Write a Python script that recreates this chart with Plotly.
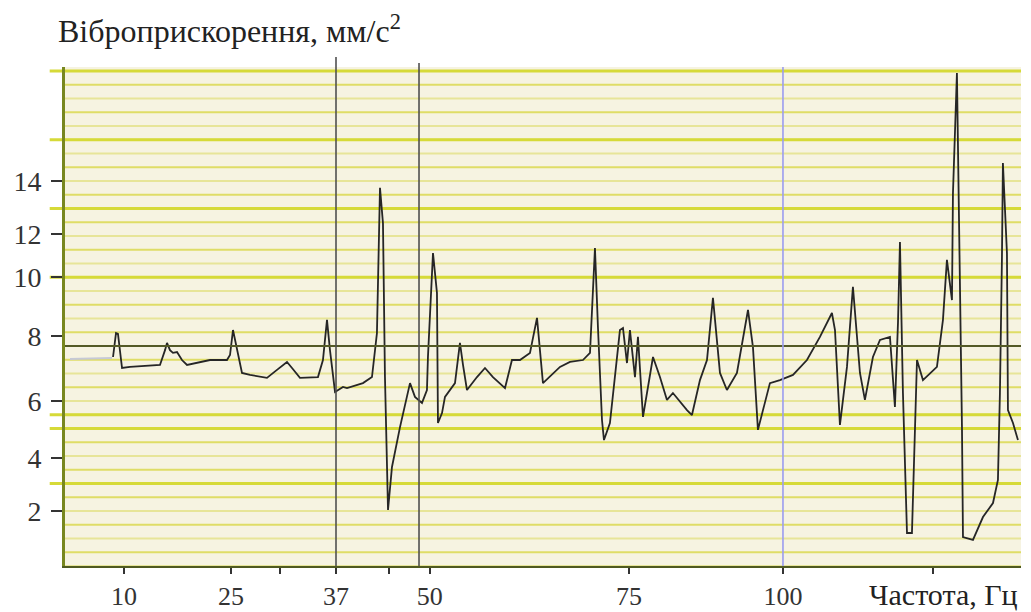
import plotly.graph_objects as go

# ---------------- data ----------------
freq = [5.57, 5.99, 6.27, 6.84, 7.96, 10.08, 12.19, 12.90, 13.18, 13.60, 14.02, 14.59, 15.29, 16.00,
        17.83, 19.24, 21.63, 22.06, 22.48, 22.90, 23.75, 24.88, 26.29, 27.27, 28.68, 30.09, 30.80,
        31.50, 31.92, 34.46, 35.16, 35.73, 36.15, 36.86, 37.98, 38.55, 40.80, 42.07, 42.77, 43.20,
        43.62, 43.90, 44.33, 44.89, 46.02, 47.43, 48.13, 49.12, 49.82, 49.96, 50.67, 51.23, 51.37,
        51.94, 52.36, 53.77, 54.47, 54.90, 55.46, 56.87, 58.00, 59.12, 60.82, 61.80, 62.93, 64.34,
        65.33, 66.17, 68.57, 69.98, 71.81, 72.80, 73.50, 73.92, 74.49, 74.77, 75.61, 77.02, 77.45,
        78.01, 78.43, 79.14, 79.56, 80.27, 81.68, 82.66, 83.65, 84.49, 85.48, 86.47, 87.17, 88.30,
        89.29, 90.13, 91.12, 92.10, 93.51, 95.07, 95.77, 96.47, 98.16, 99.57, 101.41, 103.38,
        105.21, 106.90, 107.33, 108.03, 109.02, 109.86, 110.85, 111.55, 112.68, 113.67, 115.08,
        115.50, 115.78, 116.21, 116.49, 116.91, 117.48, 118.18, 118.60, 118.89, 119.73, 121.70,
        122.55, 123.11, 123.82, 123.96, 124.52, 124.94, 125.23, 125.37, 126.78, 128.19, 129.60,
        130.30, 130.58, 130.86, 131.00, 131.57, 131.71, 132.42, 133.12]
accel = [7.60, 8.47, 8.44, 7.20, 7.24, 7.27, 7.31, 7.85, 8.11, 7.85, 7.75, 7.78, 7.49, 7.31,
         7.42, 7.49, 7.49, 7.67, 8.58, 8.04, 7.02, 6.95, 6.87, 6.84, 7.13, 7.42, 7.20,
         6.95, 6.84, 6.87, 7.49, 8.95, 7.85, 6.33, 6.51, 6.47, 6.65, 6.87, 8.47, 13.75,
         12.47, 6.87, 2.04, 3.60, 5.05, 6.65, 6.15, 5.93, 6.40, 7.60, 11.38, 9.93, 5.20,
         5.56, 6.15, 6.65, 8.11, 7.31, 6.40, 6.87, 7.20, 6.87, 6.47, 7.49, 7.49, 7.75,
         9.02, 6.65, 7.24, 7.42, 7.49, 7.75, 11.56, 8.69, 5.31, 4.58, 5.20, 8.58, 8.65,
         7.38, 8.58, 6.87, 8.33, 5.42, 7.60, 6.87, 6.04, 6.29, 5.96, 5.67, 5.49, 6.76,
         7.49, 9.75, 7.02, 6.40, 7.02, 9.31, 7.96, 4.95, 6.65, 6.76, 6.95, 7.49,
         8.33, 9.20, 8.58, 5.13, 7.24, 10.15, 7.02, 6.04, 7.60, 8.22, 8.33,
         6.87, 5.78, 8.84, 11.78, 6.29, 1.20, 1.20, 5.05, 7.49, 6.76, 7.24,
         8.95, 11.13, 9.67, 13.56, 17.93, 10.87, 5.05, 1.05, 0.95, 1.78, 2.29,
         3.13, 6.29, 11.13, 14.65, 11.38, 5.67, 5.20, 4.58]

# light grey lead-in segment
lead_freq = [-0.49, 5.43]
lead_accel = [7.53, 7.56]

ytick_pos = [2.0, 3.93, 6.0, 8.36, 10.51, 12.07, 14.0]
ytick_text = ["2", "4", "6", "8", "10", "12", "14"]
xtick_pos = [7.12, 22.2, 37.0, 50.2, 78.3, 100.0]
xtick_text = ["10", "25", "37", "50", "75", "100"]
xminor_pos = [29.1, 44.5, 121.1]

marker_freqs = [37.0, 48.7]     # dark vertical cursors
blue_freq = 100.0               # blue cursor
ref_level = 8.0                 # dark horizontal level
bright_levels = [18.0, 15.5, 13.0, 10.5, 5.5, 5.0, 3.0]

X_RANGE = [-1.198, 133.55]
Y_RANGE = [0.0, 18.145]

FONT = "Liberation Serif"

fig = go.Figure()

fig.add_trace(go.Scatter(x=lead_freq, y=lead_accel, mode="lines",
                         line=dict(color="#c6c9d6", width=2), hoverinfo="skip",
                         showlegend=False))
fig.add_trace(go.Scatter(x=freq, y=accel, mode="lines",
                         line=dict(color="#262626", width=1.8),
                         showlegend=False))

shapes = []
# horizontal stripes every 0.5 unit
n = int(Y_RANGE[1] / 0.5)
for k in range(n + 1):
    yv = k * 0.5
    col = "#dfdd66" if (k % 2 == 1) else "#e7e598"
    shapes.append(dict(type="line", xref="paper", x0=0, x1=1, yref="y", y0=yv, y1=yv,
                       line=dict(color=col, width=2.2), layer="below"))
for yv in bright_levels:
    shapes.append(dict(type="line", xref="paper", x0=-0.016, x1=1, yref="y", y0=yv, y1=yv,
                       line=dict(color="#d6da38", width=3), layer="below"))
# dark reference level
shapes.append(dict(type="line", xref="paper", x0=0, x1=1, yref="y", y0=ref_level, y1=ref_level,
                   line=dict(color="#545a26", width=2), layer="above"))
# vertical cursors
for xv, top in zip(marker_freqs, [1.02, 1.008]):
    shapes.append(dict(type="line", xref="x", x0=xv, x1=xv, yref="paper", y0=0, y1=top,
                       line=dict(color="#505050", width=1.6), layer="above"))
shapes.append(dict(type="line", xref="x", x0=blue_freq, x1=blue_freq, yref="paper", y0=0, y1=1,
                   line=dict(color="#9a9cf0", width=1.6), layer="above"))

# the page body adds an 8 px offset, so the figure is 8 px smaller and margins 8 px tighter
fig.update_layout(
    width=1023, height=604,
    margin=dict(l=57, r=10, t=59, b=46, autoexpand=False),
    paper_bgcolor="white",
    plot_bgcolor="#f6f3e1",
    shapes=shapes,
    font=dict(family=FONT, size=26, color="#333333"),
    xaxis=dict(range=X_RANGE, tickmode="array", tickvals=xtick_pos, ticktext=xtick_text,
               automargin=False,
               showgrid=False, zeroline=False, showline=True, linecolor="#4f5a20", linewidth=2,
               ticks="outside", ticklen=6, tickwidth=2, tickcolor="#333333",
               minor=dict(tickmode="array", tickvals=xminor_pos, ticks="outside", ticklen=6,
                          tickwidth=2, tickcolor="#333333", showgrid=False),
               tickfont=dict(family=FONT, size=26, color="#333333")),
    yaxis=dict(range=Y_RANGE, tickmode="array", tickvals=ytick_pos, ticktext=ytick_text,
               automargin=False,
               showgrid=False, zeroline=False, showline=True, linecolor="#78871f", linewidth=3,
               ticks="outside", ticklen=11, tickwidth=2, tickcolor="#333333",
               ticklabelstandoff=4,
               tickfont=dict(family=FONT, size=28, color="#333333")),
    annotations=[
        dict(text="Віброприскорення, мм/с<sup>2</sup>", xref="paper", yref="paper",
             x=-0.009, y=1.076, xanchor="left", yanchor="middle", showarrow=False,
             font=dict(family=FONT, size=32, color="#222222")),
        dict(text="Частота, Гц", xref="paper", yref="paper",
             x=0.839, y=-0.058, xanchor="left", yanchor="middle", showarrow=False,
             font=dict(family=FONT, size=30, color="#222222")),
    ],
)

fig.write_html("out.html")
